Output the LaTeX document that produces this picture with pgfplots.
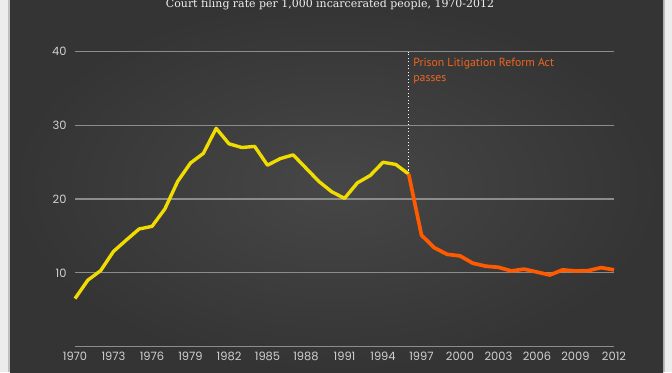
\documentclass[border=0pt]{standalone}
\usepackage{pgfplots}
\pgfplotsset{compat=1.18}
\usepackage{fontspec}
\setmainfont{Poppins}
\newfontfamily\titlefont{DejaVu Serif}
\newfontfamily\notefont{PT Sans}
\newfontfamily\tickfont{Poppins}
\definecolor{panelin}{HTML}{474747}
\definecolor{panelout}{HTML}{343434}
\definecolor{border}{HTML}{ECECEC}
\definecolor{gridc}{HTML}{8C8C8C}
\definecolor{ticktext}{HTML}{D0D0D0}
\definecolor{yel}{HTML}{F0DC00}
\definecolor{ora}{HTML}{FF5A00}
\definecolor{notec}{HTML}{F0651E}
\begin{document}
\begin{tikzpicture}[x=1bp,y=1bp]
\path[use as bounding box] (0,0) rectangle (672,372);
\fill[border] (0,0) rectangle (672,372);
\fill[black!25] (8,0) rectangle (665,372);
\shade[inner color=panelin, outer color=panelout] (10,0) rectangle (663,372);
\node[text=white!94!black, font=\titlefont\fontsize{11}{12}\selectfont, anchor=base] at (330,364.5) {Court filing rate per 1,000 incarcerated people, 1970-2012};
\begin{axis}[
  at={(75bp,25.5bp)}, anchor=south west,
  scale only axis, width=539bp, height=294.8bp,
  xmin=1970, xmax=2012, ymin=0, ymax=40,
  clip=false,
  axis line style={draw=none},
  major tick length=0pt,
  xtick={1970,1973,...,2012},
  ytick={10,20,30,40},
  ymajorgrids,
  grid style={gridc, line width=1.3pt},
  /pgf/number format/1000 sep={},
  /pgf/number format/assume math mode=true,
  tick label style={text=ticktext, font=\tickfont\fontsize{11.5}{12}\selectfont},
  xticklabel style={yshift=-2bp},
  yticklabel style={xshift=-5bp},
]
\draw[gridc, line width=1.3pt] (axis cs:1970,0) -- (axis cs:2012,0);
\addplot[white, line width=1.1pt, dotted, dash pattern=on 1.1pt off 2.4pt] coordinates {(1996,23.4) (1996,40)};
\addplot[yel, line width=3.4pt, line join=round] coordinates {
(1970,6.5) (1971,9.0) (1972,10.3) (1973,12.9) (1974,14.45) (1975,15.95) (1976,16.3)
(1977,18.66) (1978,22.4) (1979,24.9) (1980,26.2) (1981,29.6) (1982,27.5) (1983,27.0)
(1984,27.15) (1985,24.6) (1986,25.5) (1987,26.0) (1988,24.2) (1989,22.4) (1990,21.0)
(1991,20.1) (1992,22.2) (1993,23.2) (1994,25.0) (1995,24.7) (1996,23.4)};
\addplot[ora, line width=3.7pt, line join=round] coordinates {
(1996,23.4) (1997,15.1) (1998,13.4) (1999,12.5) (2000,12.3) (2001,11.3) (2002,10.9)
(2003,10.75) (2004,10.25) (2005,10.5) (2006,10.1) (2007,9.7) (2008,10.4) (2009,10.25)
(2010,10.3) (2011,10.7) (2012,10.4)};
\node[anchor=base west, text=notec, font=\notefont\fontsize{11.8}{15}\selectfont, align=left, inner sep=0pt] at (axis cs:1996.35,35.9) {Prison Litigation Reform Act\\passes};
\end{axis}
\end{tikzpicture}
\end{document}
